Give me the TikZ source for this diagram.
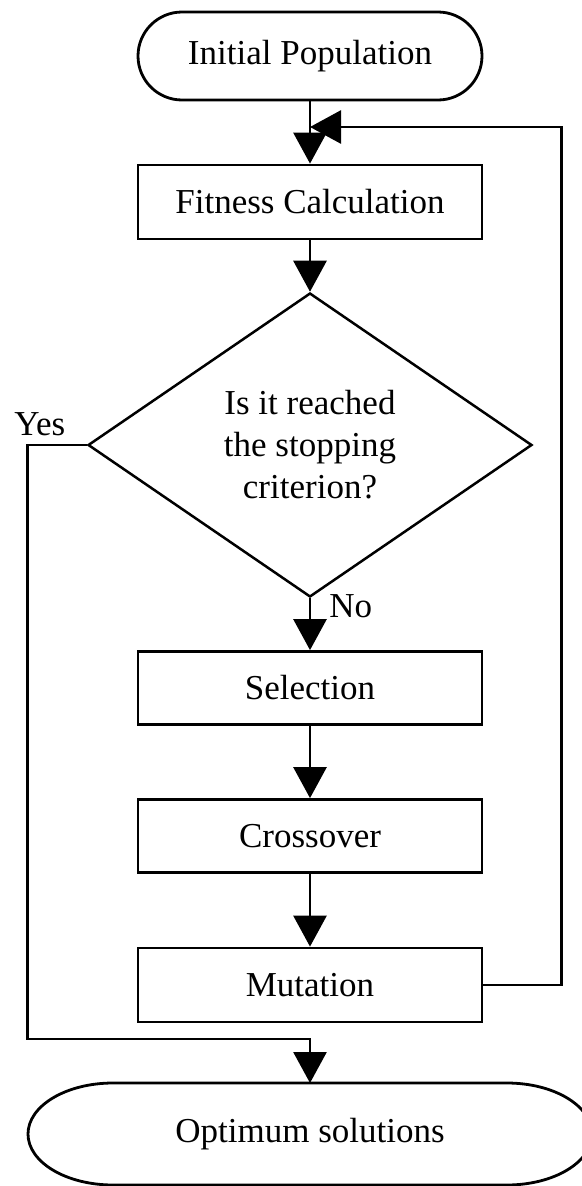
\documentclass[tikz,border=0pt]{standalone}
\usepackage{fontspec}
\setmainfont{Liberation Serif}
\usetikzlibrary{shapes.geometric,arrows.meta,scopes}

\begin{document}
\begin{tikzpicture}[x=1pt,y=1pt,line width=2.8pt,
    font=\fontsize{35}{42}\selectfont,
    gabox/.style={draw,rectangle,minimum width=344pt,minimum height=74pt,inner sep=0pt},
    gaarrow/.style={-{Triangle[length=31pt,width=33pt]}}]
  \useasboundingbox (0,0) rectangle (581,-1186);
  \node [gabox,rounded corners=44pt,minimum height=88pt] (init) at (310,-56) {Initial Population};
  \node [gabox] (fit) at (310,-202) {Fitness Calculation};
  \node [draw,diamond,minimum width=444pt,minimum height=304pt,inner sep=0pt,
    line width=2.5pt,align=center] (stop) at (310,-445) {Is it reached\\the stopping\\criterion?};
  \node [gabox,minimum height=73pt] (sel) at (310,-688) {Selection};
  \node [gabox,minimum height=73pt] (cross) at (310,-836) {Crossover};
  \node [gabox] (mut) at (310,-985) {Mutation};
  \node [inner sep=0pt] (opt) at (310,-1134) {Optimum solutions};
  \draw ([shift={(-197,51)}]opt.center) -- ++(394,0)
    arc [start angle=90,end angle=-90,x radius=85,y radius=51] -- ++(-394,0)
    arc [start angle=270,end angle=90,x radius=85,y radius=51] -- cycle;
  \coordinate (optn) at (310,-1083);
  \path;
  { [every node/.style={anchor=base west,inner sep=0pt}]
    \node (yes) at (13,-435) {Yes};
    \node (no) at (328,-617) {No};
  }
  \coordinate (back) at (310,-127);
  \coordinate (merge) at (310,-1039);
  { [gaarrow]
    \draw (init) -- (fit);
    \draw (fit) -- (stop);
    \draw (stop) -- (sel);
    \draw (sel) -- (cross);
    \draw (cross) -- (mut);
    \draw (mut.east) -- ++(78,0) |- (back);
    \draw (stop.west) -- ++(-59,0) |- (merge) -- (optn);
  }
\end{tikzpicture}
\end{document}
